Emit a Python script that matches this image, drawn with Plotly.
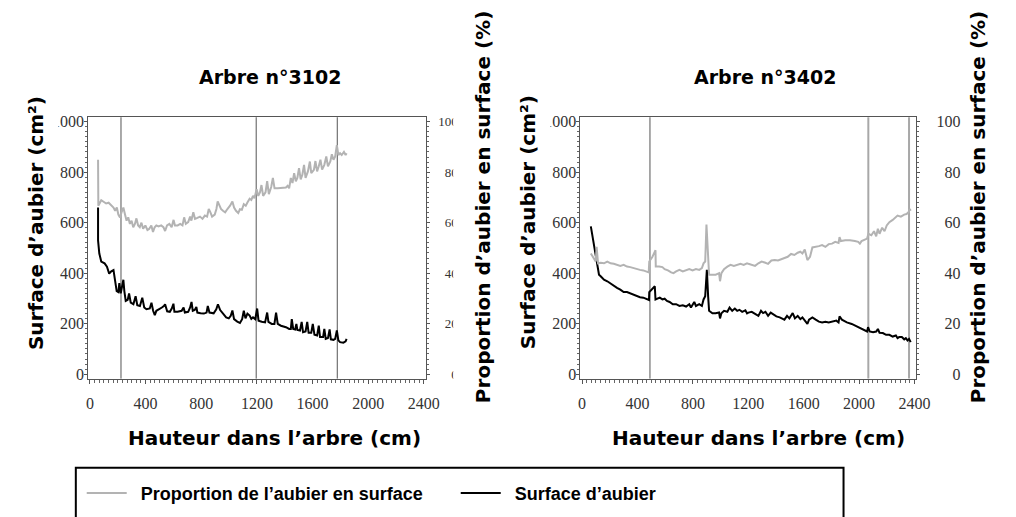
import plotly.graph_objects as go

W, H = 1016, 517

# ---- Arbre n°3102 ----------------------------------------------------
# hauteur (cm) / surface d'aubier (cm²)
h_3102_surf = [58, 58, 67, 81, 105, 122, 138, 153, 169, 181, 192, 204, 211, 221, 230, 240,
               247, 257, 271, 281, 293, 312, 328, 340, 359, 376, 390, 406, 430, 442, 454,
               466, 477, 501, 517, 531, 540, 555, 574, 588, 600, 607, 630, 659, 673, 682,
               706, 720, 730, 739, 753, 765, 772, 795, 819, 838, 847, 859, 889, 908, 920,
               936, 960, 979, 998, 1012, 1024, 1036, 1059, 1078, 1094, 1106, 1118, 1132,
               1148, 1160, 1172, 1188, 1202, 1212, 1235, 1259, 1274, 1283, 1307, 1326, 1338,
               1350, 1373, 1409, 1432, 1444, 1451, 1461, 1475, 1484, 1491, 1510, 1522, 1532,
               1550, 1562, 1572, 1591, 1602, 1614, 1633, 1645, 1654, 1676, 1685, 1695, 1711,
               1723, 1732, 1751, 1763, 1775, 1786, 1798, 1822, 1838, 1845]
surf_3102 = [660, 530, 478, 446, 439, 426, 398, 407, 412, 374, 329, 325, 361, 320, 348, 374,
             329, 290, 294, 320, 283, 277, 309, 273, 270, 303, 264, 257, 260, 283, 251,
             234, 251, 257, 264, 270, 277, 249, 247, 260, 279, 247, 247, 251, 264, 244,
             247, 264, 286, 251, 254, 266, 244, 241, 240, 244, 270, 244, 241, 257, 277,
             254, 238, 225, 221, 231, 252, 218, 208, 203, 218, 251, 221, 240,
             232, 219, 225, 218, 260, 212, 208, 205, 244, 207, 199, 199, 244,
             199, 192, 186, 179, 179, 218, 179, 177, 199, 175, 173, 207, 166,
             169, 207, 164, 164, 199, 156, 153, 192, 147, 147, 179, 140, 143,
             177, 138, 136, 140, 173, 134, 127, 125, 130, 140]

# hauteur (cm) / proportion de l'aubier en surface (%)
h_3102_prop = [58, 60, 81, 99, 116, 134, 153, 169, 181, 193, 204, 216, 228, 240, 251, 263,
               275, 287, 299, 311, 323, 334, 346, 358, 370, 382, 398, 413, 425, 441, 453,
               465, 477, 493, 512, 528, 540, 554, 571, 587, 601, 611, 630, 649, 665, 677,
               689, 706, 720, 729, 743, 755, 772, 791, 809, 826, 842, 854, 866, 878, 897,
               909, 918, 930, 942, 956, 972, 988, 1007, 1024, 1036, 1050, 1066, 1078, 1092,
               1106, 1120, 1132, 1148, 1160, 1172, 1183, 1198, 1210, 1222, 1233, 1245, 1262,
               1274, 1286, 1303, 1315, 1327, 1350, 1373, 1392, 1409, 1421, 1432, 1444, 1456,
               1468, 1480, 1491, 1503, 1515, 1527, 1539, 1550, 1567, 1581, 1591, 1610, 1621,
               1633, 1645, 1657, 1669, 1685, 1699, 1711, 1728, 1739, 1751, 1763, 1775, 1786,
               1798, 1810, 1826, 1838, 1845]
prop_3102 = [84.9, 66.7, 68.9, 68.4, 67.6, 67.9, 66.9, 66.0, 64.7, 66.0, 63.2, 62.1, 64.3,
             66.0, 63.4, 60.8, 62.1, 59.5, 60.8, 58.2, 59.5, 61.7, 58.9, 58.2, 60.0, 57.6,
             58.9, 57.1, 57.5, 58.9, 56.3, 58.2, 58.9, 58.5, 58.9, 58.2, 56.7, 58.9, 59.5,
             58.2, 61.1, 58.9, 58.9, 59.5, 58.9, 62.1, 59.5, 60.2, 62.4, 60.8, 64.1, 61.5,
             61.9, 62.4, 61.5, 62.8, 62.4, 65.4, 64.1, 62.4, 63.2, 65.4, 68.4, 66.7, 65.4,
             64.7, 64.1, 65.4, 66.7, 68.4, 66.0, 64.7, 63.8, 65.3, 65.1, 67.3, 66.7, 68.0,
             69.5, 69.0, 70.6, 69.7, 73.2, 70.6, 72.0, 74.9, 70.6, 72.0, 76.4, 71.3, 74.1,
             77.7, 73.6, 73.6, 73.6, 73.6, 73.9, 74.6, 73.6, 77.7, 75.7, 79.6, 76.4, 77.7,
             81.6, 77.1, 79.0, 82.9, 77.7, 80.3, 84.2, 79.6, 80.9, 84.4, 80.3, 82.3, 84.9,
             81.0, 82.9, 86.2, 82.3, 84.2, 87.1, 84.9, 86.2, 90.7, 86.8, 87.5, 86.8, 88.0,
             86.8, 87.5]

# hauteurs des découpes (cm)
cuts_3102 = [223, 1195, 1778]
cut_colors_3102 = ["#555555", "#555555", "#555555"]
cut_widths_3102 = [1, 1, 1]

# ---- Arbre n°3402 ----------------------------------------------------
h_3402_surf = [63, 75, 87, 98, 110, 115, 122, 134, 158, 182, 206, 229, 252, 276, 300, 324,
               348, 371, 395, 418, 442, 466, 483, 485, 502, 525, 530, 549, 561, 580, 596,
               613, 632, 655, 679, 703, 727, 751, 774, 786, 810, 822, 846, 865, 877, 889,
               901, 910, 917, 941, 965, 989, 996, 1006, 1025, 1049, 1065, 1084, 1103, 1120,
               1136, 1156, 1179, 1191, 1201, 1225, 1249, 1273, 1292, 1307, 1324, 1343, 1362,
               1379, 1403, 1427, 1449, 1461, 1480, 1497, 1521, 1537, 1557, 1576, 1591, 1608,
               1627, 1639, 1663, 1687, 1710, 1733, 1757, 1781, 1805, 1836, 1852, 1859, 1876,
               1912, 1947, 1983, 2018, 2042, 2058, 2065, 2077, 2101, 2124, 2136, 2148, 2172,
               2195, 2219, 2243, 2266, 2278, 2290, 2309, 2326, 2338, 2350, 2361, 2373]
surf_3402 = [585, 543, 504, 465, 439, 403, 394, 388, 374, 368, 359, 348, 342, 335, 325, 325,
             320, 316, 309, 305, 303, 296, 294, 325, 335, 348, 296, 299, 303, 296, 299,
             290, 286, 277, 277, 270, 273, 268, 277, 264, 286, 270, 277, 270, 296, 309,
             413, 309, 251, 241, 241, 244, 221, 241, 251, 247, 264, 251, 260, 251,
             255, 247, 253, 241, 244, 247, 238, 231, 251, 242, 247, 231, 244,
             238, 229, 225, 221, 216, 231, 221, 242, 221, 231, 218, 225, 212,
             199, 216, 225, 216, 208, 205, 208, 205, 208, 212, 205, 229, 216,
             205, 199, 190, 179, 173, 169, 186, 169, 166, 169, 179, 164, 163,
             156, 156, 149, 153, 143, 147, 147, 138, 143, 134, 140, 127]

h_3402_prop = [63, 87, 98, 105, 115, 134, 158, 182, 206, 229, 252, 276, 300, 324, 348, 371,
               395, 418, 442, 466, 481, 485, 508, 530, 532, 556, 580, 596, 620, 643, 660,
               679, 703, 727, 751, 774, 798, 822, 846, 865, 877, 889, 898, 913, 917, 941,
               965, 989, 996, 1006, 1025, 1049, 1072, 1096, 1120, 1144, 1167, 1191, 1201,
               1225, 1249, 1273, 1296, 1319, 1343, 1367, 1391, 1415, 1438, 1461, 1485, 1509,
               1533, 1557, 1576, 1591, 1608, 1627, 1646, 1663, 1687, 1710, 1733, 1757, 1781,
               1805, 1828, 1852, 1859, 1869, 1900, 1935, 1970, 1994, 2006, 2018, 2042, 2058,
               2068, 2089, 2108, 2124, 2136, 2148, 2167, 2184, 2200, 2219, 2243, 2261, 2278,
               2302, 2326, 2343, 2357, 2366, 2373]
prop_3402 = [47.8, 45.9, 44.6, 50.4, 43.9, 44.1, 43.9, 44.6, 43.9, 43.7, 43.3, 42.9, 43.3,
             42.6, 42.4, 42.0, 41.6, 41.3, 41.1, 40.7, 40.3, 44.6, 46.5, 49.1, 42.6, 42.6,
             42.4, 41.6, 41.1, 40.3, 40.0, 40.7, 41.3, 40.7, 41.3, 41.6, 41.1, 41.6, 41.3,
             42.0, 43.9, 44.6, 59.3, 46.5, 39.4, 39.4, 39.4, 40.0, 36.8, 40.0, 41.6, 42.6,
             43.3, 42.9, 43.3, 43.7, 43.3, 43.9, 43.7, 43.3, 42.9, 43.9, 44.6, 44.2, 43.7,
             45.0, 45.2, 45.0, 45.5, 45.9, 46.5, 47.6, 47.2, 48.1, 48.5, 47.8, 49.4, 45.2,
             46.5, 50.2, 50.4, 50.7, 51.1, 50.4, 51.5, 51.7, 52.4, 52.0, 54.3, 52.7, 53.0,
             53.0, 52.7, 52.4, 51.7, 52.7, 53.3, 53.7, 55.6, 55.0, 56.6, 54.6, 57.6, 55.6,
             58.0, 56.6, 58.9, 60.2, 61.1, 62.1, 62.8, 62.4, 63.2, 63.4, 64.1, 65.4, 64.7]

cuts_3402 = [490, 2067, 2361]
cut_colors_3402 = ["#555555", "#a8a8a8", "#a8a8a8"]
cut_widths_3402 = [1, 2, 2]

# ---- axes ticks -------------------------------------------------------
x_ticks = [0, 400, 800, 1200, 1600, 2000, 2400]
surf_ticks = [0, 200, 400, 600, 800, 1000]
prop_ticks = [0, 20, 40, 60, 80, 100]
FSP = "\u2007"  # figure space, keeps right-hand labels right-aligned
prop_ticktext = [FSP * (3 - len(str(v))) + str(v) for v in prop_ticks]

GREY = "#b3b3b3"
BLACK = "#000000"
AXIS = "#555555"
SERIF = "Liberation Serif"
SANS_B = "DejaVu Sans"
GAP = "\u2002"  # en space between legend sample and its label


def px(x):
    return x / W


def py(y):
    return 1 - y / H


y_dom = [py(380.5), py(115)]
x_dom_l = [px(87.7), px(430.5)]
x_dom_r = [px(587.7), px(929)]
x_range = [-12, 2414]
surf_range = [-17.5, 1017.5]
prop_range = [-1.75, 101.75]

fig = go.Figure()

# proportion first so it is listed first in the legend
fig.add_trace(go.Scatter(x=h_3102_prop, y=prop_3102, xaxis="x", yaxis="y2", mode="lines",
                         line=dict(color=GREY, width=2),
                         name=GAP + "Proportion de l’aubier en surface", legendgroup="prop"))
fig.add_trace(go.Scatter(x=h_3102_surf, y=surf_3102, xaxis="x", yaxis="y", mode="lines",
                         line=dict(color=BLACK, width=2),
                         name=GAP + "Surface d’aubier", legendgroup="surf"))
fig.add_trace(go.Scatter(x=h_3402_prop, y=prop_3402, xaxis="x2", yaxis="y4", mode="lines",
                         line=dict(color=GREY, width=2), showlegend=False,
                         name="Proportion de l’aubier en surface", legendgroup="prop"))
fig.add_trace(go.Scatter(x=h_3402_surf, y=surf_3402, xaxis="x2", yaxis="y3", mode="lines",
                         line=dict(color=BLACK, width=2), showlegend=False,
                         name="Surface d’aubier", legendgroup="surf"))


def x_axis(domain, anchor):
    return dict(domain=domain, anchor=anchor, range=x_range, tickvals=x_ticks,
                ticks="outside", ticklen=4, tickwidth=1, tickcolor=AXIS,
                showline=True, linecolor=AXIS, linewidth=1, mirror=True,
                showgrid=False, zeroline=False, ticklabelstandoff=6,
                tickfont=dict(family=SERIF, size=16, color="#333333"),
                minor=dict(tickmode="linear", tick0=0, dtick=400 / 12, ticks="outside",
                           ticklen=3, tickcolor="#666666", showgrid=False),
                fixedrange=True)


def surf_axis(anchor):
    return dict(domain=y_dom, anchor=anchor, range=surf_range, tickvals=surf_ticks,
                ticks="outside", ticklen=3, tickwidth=1, tickcolor=AXIS,
                showline=True, linecolor=AXIS, linewidth=1,
                showgrid=False, zeroline=False, ticklabelstandoff=-3,
                tickfont=dict(family=SERIF, size=16, color="#333333"),
                minor=dict(tickmode="linear", tick0=0, dtick=20, ticks="outside",
                           ticklen=2, tickcolor="#666666", showgrid=False),
                fixedrange=True)


def prop_axis(anchor, over, size, standoff):
    return dict(overlaying=over, side="right", anchor=anchor, range=prop_range,
                tickvals=prop_ticks, ticktext=prop_ticktext,
                ticks="outside", ticklen=3, tickwidth=1, tickcolor=AXIS,
                showline=True, linecolor=AXIS, linewidth=1,
                showgrid=False, zeroline=False, ticklabelstandoff=standoff,
                tickfont=dict(family=SERIF, size=size, color="#333333"),
                minor=dict(tickmode="linear", tick0=0, dtick=2, ticks="outside",
                           ticklen=2, tickcolor="#666666", showgrid=False),
                fixedrange=True)


shapes = []
for cuts, cols, wids, xref in ((cuts_3102, cut_colors_3102, cut_widths_3102, "x"),
                               (cuts_3402, cut_colors_3402, cut_widths_3402, "x2")):
    for c, col, w in zip(cuts, cols, wids):
        shapes.append(dict(type="line", xref=xref, yref="paper", x0=c, x1=c,
                           y0=y_dom[0], y1=y_dom[1], line=dict(color=col, width=w),
                           layer="below"))

# white bands trimming the tick labels at the edges of each panel
for x0, x1, y0, y1 in ((30, 57, 105, 135), (458.5, 472, 100, 390), (545, 557, 105, 135)):
    shapes.append(dict(type="rect", xref="paper", yref="paper", x0=px(x0), x1=px(x1),
                       y0=py(y1), y1=py(y0), fillcolor="white", line=dict(width=0),
                       layer="above"))

# legend frame
shapes.append(dict(type="rect", xref="paper", yref="paper", x0=px(75), x1=px(855),
                   y0=py(545), y1=py(471), fillcolor="rgba(0,0,0,0)",
                   line=dict(color="black", width=2), layer="above"))

title_font = dict(family=SANS_B, size=19, color="black", weight="bold")
lab_font = dict(family=SANS_B, size=20, color="black", weight="bold")


def ann(text, x, y, font, angle=0):
    return dict(text=text, xref="paper", yref="paper", x=px(x), y=py(y),
                xanchor="center", yanchor="middle", showarrow=False,
                textangle=angle, font=font)


annotations = [
    ann("Arbre n°3102", 272, 74, title_font),
    ann("Arbre n°3402", 775, 74, title_font),
    ann("Hauteur dans l’arbre (cm)", 277, 441, lab_font),
    ann("Hauteur dans l’arbre (cm)", 769, 441, lab_font),
    ann("Surface d’aubier (cm²)", 34, 222, lab_font, -90),
    ann("Proportion d’aubier en surface (%)", 488, 206, lab_font, -90),
    ann("Surface d’aubier (cm²)", 534, 222, lab_font, -90),
    ann("Proportion d’aubier en surface (%)", 991, 206, lab_font, -90),
]

fig.update_layout(
    width=W, height=H, autosize=False,
    margin=dict(l=0, r=0, t=0, b=0),
    paper_bgcolor="white", plot_bgcolor="white",
    xaxis=x_axis(x_dom_l, "y"),
    yaxis=surf_axis("x"),
    yaxis2=prop_axis("x", "y", 13, 6),
    xaxis2=x_axis(x_dom_r, "y3"),
    yaxis3=surf_axis("x2"),
    yaxis4=prop_axis("x2", "y3", 16, 13),
    shapes=shapes,
    annotations=annotations,
    showlegend=True,
    legend=dict(orientation="h", x=px(81), xanchor="left", y=py(497), yanchor="middle",
                font=dict(family="Liberation Sans", size=18, color="black", weight="bold"),
                entrywidth=319, entrywidthmode="pixels",
                bgcolor="rgba(0,0,0,0)", borderwidth=0, itemwidth=40),
    hovermode=False,
)

fig.write_html("out.html")
